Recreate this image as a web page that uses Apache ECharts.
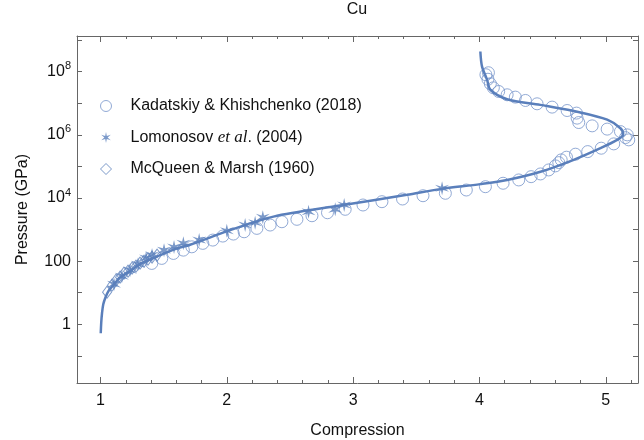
<!DOCTYPE html>
<html lang="en">
<head>
<meta charset="UTF-8">
<title>Cu</title>
<script src="https://cdn.jsdelivr.net/npm/echarts@6/dist/echarts.min.js"></script>
<style>html,body{margin:0;padding:0;background:#fff;}</style>
</head>
<body>
<div id="main" style="width:644px;height:440px;"></div>
<script>
// theory curve: [compression, pressure GPa]
var curve = [
  [1.002, 0.52], [1.006, 1.16], [1.012, 2.23], [1.022, 4.3], [1.040, 7.2],
  [1.063, 11.2], [1.091, 15.5], [1.155, 30], [1.234, 48], [1.313, 80],
  [1.445, 138], [1.590, 240], [1.709, 330], [2.026, 955], [2.369, 2570],
  [2.896, 5750], [3.426, 12600], [3.690, 19100], [4.007, 27500], [4.219, 37200],
  [4.483, 67600], [4.746, 162000], [4.958, 380000], [5.090, 692000], [5.138, 1.0e6],
  [5.116, 1.62e6], [5.011, 3.02e6], [4.800, 5.13e6], [4.482, 8.91e6], [4.219, 1.35e7],
  [4.086, 2.69e7], [4.060, 5.62e7], [4.020, 1.48e8], [4.007, 4.37e8]
];
var kadatskiy = [
  [1.406, 84.5], [1.485, 122], [1.577, 175], [1.656, 223], [1.723, 284],
  [1.810, 365], [1.889, 464], [1.968, 622], [2.052, 720], [2.137, 851],
  [2.238, 1090], [2.343, 1390], [2.436, 1770], [2.555, 2110], [2.674, 2740],
  [2.797, 3410], [2.937, 4380], [3.078, 6000], [3.228, 7640], [3.391, 9290],
  [3.553, 11800], [3.730, 14100], [3.896, 17900], [4.047, 22800], [4.187, 29300],
  [4.311, 37300], [4.409, 47400], [4.483, 57800], [4.548, 77400], [4.601, 104000],
  [4.628, 132000], [4.647, 161000], [4.689, 196000], [4.760, 244000], [4.857, 295000],
  [4.964, 378000], [5.063, 518000], [5.182, 694000], [5.156, 821000], [5.170, 1.0e6],
  [5.116, 1.27e6], [5.011, 1.52e6], [4.892, 1.93e6], [4.786, 2.46e6], [4.773, 3.39e6],
  [4.768, 4.89e6], [4.694, 5.91e6], [4.575, 7.57e6], [4.456, 9.64e6], [4.364, 1.23e7],
  [4.284, 1.57e7], [4.219, 1.86e7], [4.152, 2.37e7], [4.110, 3.10e7], [4.086, 4.16e7],
  [4.067, 5.78e7], [4.051, 8.03e7], [4.071, 9.29e7]
];
var lomonosov = [
  [1.107, 18.6], [1.170, 33.4], [1.234, 51.8], [1.297, 80.3], [1.361, 125],
  [1.408, 155], [1.503, 223], [1.582, 278], [1.656, 365], [1.781, 464],
  [2.000, 916], [2.145, 1390], [2.224, 1640], [2.285, 2440], [2.647, 3670],
  [2.858, 4380], [2.929, 6000], [3.704, 20300]
];
var mcqueen = [
  [1.052, 10.4], [1.091, 17.3], [1.123, 24.9], [1.155, 31.0], [1.186, 41.6],
  [1.218, 48.2], [1.250, 60.0], [1.281, 69.4], [1.313, 86.4], [1.345, 100],
  [1.376, 116], [1.408, 134], [1.448, 155]
];
var xMajor = [1, 2, 3, 4, 5];
var xMinor = [1.2, 1.4, 1.6, 1.8, 2.2, 2.4, 2.6, 2.8, 3.2, 3.4, 3.6, 3.8,
              4.2, 4.4, 4.6, 4.8, 5.2];
var yTicks = [0.1, 1, 10, 100, 1e3, 1e4, 1e5, 1e6, 1e7, 1e8, 1e9];
var yLabels = [1, 100, 1e4, 1e6, 1e8];

var lineColor = '#5a7fbb';
var markColor = '#7795cb';
var axisColor = '#666';

function starPath(n, rIn) {
  var d = '';
  for (var k = 0; k < 2 * n; k++) {
    var a = Math.PI * k / n - Math.PI / 2;
    var r = k % 2 ? rIn : 1;
    d += (k ? 'L' : 'M') + (r * Math.cos(a)).toFixed(3) + ' ' + (r * Math.sin(a)).toFixed(3);
  }
  return 'path://' + d + 'Z';
}

function yFmt(v) {
  if (v < 1e3) return String(Math.round(v));
  return '10{s|' + Math.round(Math.log10(v)) + '}';
}

var chart = echarts.init(document.getElementById('main'));
var xMin = 0.814, xMax = 5.255, yMin = 0.01377, yMax = 1.355e9;

function xAx(pos, ticks, len, showLine, labels) {
  return {
    type: 'value', position: pos, min: xMin, max: xMax,
    splitLine: {show: false},
    axisLine: {show: showLine, onZero: false, lineStyle: {color: axisColor, width: 1}},
    axisTick: {show: true, inside: true, length: len, customValues: ticks,
               lineStyle: {color: axisColor, width: 1}},
    axisLabel: labels ? {show: true, customValues: labels, color: '#111', fontSize: 16,
               fontFamily: 'Liberation Sans', margin: 10} : {show: false}
  };
}
function yAx(pos, labels) {
  return {
    type: 'log', logBase: 10, position: pos, min: yMin, max: yMax,
    splitLine: {show: false}, minorTick: {show: false},
    axisLine: {show: true, onZero: false, lineStyle: {color: axisColor, width: 1}},
    axisTick: {show: true, inside: true, length: 5, customValues: yTicks,
               lineStyle: {color: axisColor, width: 1}},
    axisLabel: labels ? {
      show: true, customValues: labels, formatter: yFmt, color: '#111',
      fontSize: 16, fontFamily: 'Liberation Sans', margin: 6, lineHeight: 22,
      rich: {s: {fontSize: 11, lineHeight: 12, verticalAlign: 'top',
                 fontFamily: 'Liberation Sans', color: '#111'}}
    } : {show: false}
  };
}

var xs = [xAx('bottom', xMajor, 6, true, xMajor), xAx('bottom', xMinor, 3, false, null),
          xAx('top', xMajor, 6, true, null), xAx('top', xMinor, 3, false, null)];
xs[0].name = 'Compression';
xs[0].nameLocation = 'middle';
xs[0].nameGap = 40;
xs[0].nameTextStyle = {fontSize: 16, fontFamily: 'Liberation Sans', color: '#111'};
var ys = [yAx('left', yLabels), yAx('right', null)];
ys[0].name = 'Pressure (GPa)';
ys[0].nameLocation = 'middle';
ys[0].nameGap = 46;
ys[0].nameTextStyle = {fontSize: 16, fontFamily: 'Liberation Sans', color: '#111'};

var hollow = {color: 'rgba(255,255,255,0)', borderColor: markColor, borderWidth: 1};

chart.setOption({
  animation: false,
  backgroundColor: '#fff',
  title: {
    text: 'Cu', left: 357, top: 2, padding: 0, textAlign: 'center',
    textStyle: {fontSize: 16, fontWeight: 'normal', fontFamily: 'Liberation Sans', color: '#111'}
  },
  legend: {
    orient: 'vertical', left: 95, top: 93, itemWidth: 11, itemHeight: 11, itemGap: 15,
    data: ['Kadatskiy & Khishchenko (2018)', 'Lomonosov et al. (2004)', 'McQueen & Marsh (1960)'],
    formatter: function (name) {
      if (name.indexOf('Lomonosov') === 0) return 'Lomonosov {i|et al}. (2004)';
      return name;
    },
    itemStyle: {borderWidth: 1},
    textStyle: {
      fontSize: 16, fontFamily: 'Liberation Sans', color: '#111', lineHeight: 16,
      padding: [0, 0, 0, 14],
      rich: {i: {fontSize: 17, fontStyle: 'italic', fontFamily: 'Liberation Serif',
                 color: '#111', lineHeight: 16}}
    }
  },
  grid: {left: 77, right: 6, top: 36, bottom: 57, containLabel: false, outerBoundsMode: 'none'},
  xAxis: xs,
  yAxis: ys,
  series: [
    {name: 'Kadatskiy & Khishchenko (2018)', type: 'scatter', data: kadatskiy,
     symbol: 'circle', symbolSize: 12, itemStyle: hollow},
    {name: 'Lomonosov et al. (2004)', type: 'scatter', data: lomonosov,
     symbol: starPath(6, 0.3), symbolSize: 14, itemStyle: {color: lineColor}},
    {name: 'McQueen & Marsh (1960)', type: 'scatter', data: mcqueen,
     symbol: 'diamond', symbolSize: [9, 12],
     itemStyle: {color: 'rgba(255,255,255,0)', borderColor: lineColor, borderWidth: 1}},
    {name: 'theory', type: 'line', data: curve, smooth: 0.3, showSymbol: false,
     symbol: 'none', lineStyle: {color: lineColor, width: 2.5}, z: 5}
  ]
});
</script>
</body>
</html>
